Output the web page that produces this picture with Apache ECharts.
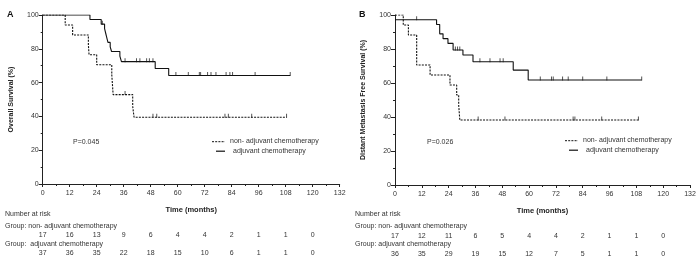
<!DOCTYPE html>
<html>
<head>
<meta charset="utf-8">
<script src="https://cdn.jsdelivr.net/npm/echarts@6/dist/echarts.min.js"></script>
<style>
  html, body { margin: 0; padding: 0; background: #fff; }
  #chart { width: 700px; height: 265px; }
</style>
</head>
<body>
<div id="chart"></div>
<script>
// month ticks shared by both panels
const monthTicks = [0, 12, 24, 36, 48, 60, 72, 84, 96, 108, 120];

// number at risk
const riskANon = [17, 16, 13, 9, 6, 4, 4, 2, 1, 1, 0];
const riskAAdj = [37, 36, 35, 22, 18, 15, 10, 6, 1, 1, 0];
const riskBNon = [17, 12, 11, 6, 5, 4, 4, 2, 1, 1, 0];
const riskBAdj = [36, 35, 29, 19, 15, 12, 7, 5, 1, 1, 0];

// panel A (overall survival) step points [month, %]
const curveANon = [[0, 100], [10, 94.1], [13.3, 88.2], [20.3, 82.4], [20.6, 76.5], [24, 70.6],
  [30.7, 64.7], [31, 58.8], [31.3, 52.9], [40, 46], [40.6, 39.5], [108.4, 39.5]];
const curveAAdj = [[0, 100], [21, 97.3], [26, 94.6], [27.5, 91.9], [28, 89.2], [28.5, 86.5],
  [29, 83.8], [30, 81.1], [30.6, 78.4], [34.3, 75.7], [35, 72.4], [50, 68.3], [56, 64.2], [110, 64.2]];
const censorANon = [[36.6, 52.9], [49, 39.5], [50.7, 39.5], [81, 39.5], [82.5, 39.5], [92.9, 39.5], [108.4, 39.5]];
const censorAAdj = [[26.5, 94.6], [36.6, 72.4], [41.7, 72.4], [43.2, 72.4], [46.2, 72.4], [47.4, 72.4], [49, 72.4],
  [59.2, 64.2], [64.7, 64.2], [69.6, 64.2], [70.2, 64.2], [73.3, 64.2], [74.8, 64.2], [77, 64.2],
  [81.5, 64.2], [83.2, 64.2], [84.4, 64.2], [94.4, 64.2], [110, 64.2]];

// panel B (distant metastasis free survival)
const curveBNon = [[0, 100], [3.7, 94.1], [6, 88.2], [9.7, 70.6], [15.7, 64.7], [24.6, 58.8],
  [27.6, 52.9], [28.5, 47], [29, 38.2], [108.9, 38.2]];
const curveBAdj = [[0, 97.2], [18.6, 94.4], [20, 88.9], [21.5, 86.1], [23.7, 83.3], [26, 79.4],
  [30.4, 76.5], [34.9, 72.5], [52.9, 67.6], [59.6, 61.8], [110.4, 61.8]];
const censorBNon = [[37.2, 38.2], [49.2, 38.2], [79.7, 38.2], [80.5, 38.2], [92.5, 38.2], [108.9, 38.2]];
const censorBAdj = [[9.7, 97.2], [27, 79.4], [28, 79.4], [29, 79.4], [38, 72.5], [42.5, 72.5], [47, 72.5],
  [48.4, 72.5], [65, 61.8], [70, 61.8], [70.8, 61.8], [75, 61.8], [77.5, 61.8], [84, 61.8],
  [94.8, 61.8], [110.4, 61.8]];

const FONT = '"Liberation Sans", Arial, sans-serif';
const txt = { fontFamily: FONT, fontSize: 7, color: '#333' };

const chart = echarts.init(document.getElementById('chart'));

const grids = [
  { left: 42.7, top: 15, width: 297, height: 169 },
  { left: 395, top: 15, width: 295, height: 170 }
];

const mainX = (gi) => ({
  type: 'value', gridIndex: gi, min: 0, max: 132, interval: 12,
  name: 'Time (months)', nameLocation: 'middle', nameGap: 22,
  nameTextStyle: { ...txt, fontWeight: 'bold', fontSize: 7.5, color: '#222' },
  axisLine: { lineStyle: { color: '#222', width: 1 } },
  axisTick: { length: 3, lineStyle: { color: '#222' } },
  minorTick: { show: true, splitNumber: 2, length: 2, lineStyle: { color: '#222' } },
  axisLabel: { ...txt, margin: 6, showMaxLabel: true },
  splitLine: { show: false }
});

const riskX = (gi, risk, offset) => ({
  type: 'value', gridIndex: gi, min: 0, max: 132, interval: 12, position: 'bottom', offset,
  axisLine: { show: false }, axisTick: { show: false }, splitLine: { show: false },
  axisLabel: {
    ...txt, margin: 4, showMaxLabel: true,
    formatter: (v) => { const i = monthTicks.indexOf(v); return i >= 0 ? String(risk[i]) : ''; }
  }
});

const mainY = (gi, name) => ({
  type: 'value', gridIndex: gi, min: 0, max: 100, interval: 20,
  name, nameLocation: 'middle', nameGap: 28,
  nameTextStyle: { ...txt, fontWeight: 'bold', color: '#222' },
  axisLine: { show: true, lineStyle: { color: '#222', width: 1 } },
  axisTick: { show: true, length: 4, lineStyle: { color: '#222' } },
  minorTick: { show: true, splitNumber: 2, length: 2, lineStyle: { color: '#222' } },
  axisLabel: { ...txt, margin: 4 },
  splitLine: { show: false }
});

const stepLine = (xi, yi, data, dashed) => ({
  type: 'line', xAxisIndex: xi, yAxisIndex: yi, data, step: 'end',
  symbol: 'none', silent: true,
  lineStyle: { color: '#111', width: 1.1, type: dashed ? [2, 1.2] : 'solid' }
});

const censor = (xi, yi, data) => ({
  type: 'scatter', xAxisIndex: xi, yAxisIndex: yi, data, silent: true,
  symbol: 'rect', symbolSize: [0.9, 4], symbolOffset: [0, -1.5],
  itemStyle: { color: '#111' }
});

const legendBlock = (x, y) => [
  { type: 'line', shape: { x1: x, y1: y, x2: x + 13, y2: y }, style: { stroke: '#111', lineWidth: 1, lineDash: [2, 1.2] } },
  { type: 'text', x: x + 18, y: y - 4, style: { text: 'non- adjuvant chemotherapy', font: '7px ' + FONT, fill: '#333' } },
  { type: 'line', shape: { x1: x + 4, y1: y + 9.5, x2: x + 13, y2: y + 9.5 }, style: { stroke: '#111', lineWidth: 1.2 } },
  { type: 'text', x: x + 21, y: y + 5.5, style: { text: 'adjuvant chemotherapy', font: '7px ' + FONT, fill: '#333' } }
];

const riskText = (x, g1, g2) => [
  { type: 'text', x, y: 211, style: { text: 'Number at risk', font: '7px ' + FONT, fill: '#333' } },
  { type: 'text', x, y: 223, style: { text: g1, font: '7px ' + FONT, fill: '#333' } },
  { type: 'text', x, y: 241, style: { text: g2, font: '7px ' + FONT, fill: '#333' } }
];

chart.setOption({
  animation: false,
  grid: grids,
  xAxis: [
    mainX(0), riskX(0, riskANon, 44), riskX(0, riskAAdj, 62),
    mainX(1), riskX(1, riskBNon, 44), riskX(1, riskBAdj, 62)
  ],
  yAxis: [
    mainY(0, 'Overall Survival (%)'),
    mainY(1, 'Distant Metastasis Free Survival (%)')
  ],
  series: [
    stepLine(0, 0, curveANon, true),
    stepLine(0, 0, curveAAdj, false),
    censor(0, 0, censorANon),
    censor(0, 0, censorAAdj),
    stepLine(3, 1, curveBNon, true),
    stepLine(3, 1, curveBAdj, false),
    censor(3, 1, censorBNon),
    censor(3, 1, censorBAdj)
  ],
  graphic: [
    { type: 'text', x: 7, y: 10, style: { text: 'A', font: 'bold 9px ' + FONT, fill: '#111' } },
    { type: 'text', x: 359, y: 10, style: { text: 'B', font: 'bold 9px ' + FONT, fill: '#111' } },
    { type: 'text', x: 73, y: 139, style: { text: 'P=0.045', font: '7px ' + FONT, fill: '#333' } },
    { type: 'text', x: 427, y: 139, style: { text: 'P=0.026', font: '7px ' + FONT, fill: '#333' } },
    ...legendBlock(212, 141.7),
    ...legendBlock(565, 140.7),
    ...riskText(5, 'Group: non- adjuvant chemotherapy', 'Group:  adjuvant chemotherapy'),
    ...riskText(355, 'Group: non- adjuvant chemotherapy', 'Group: adjuvant chemotherapy')
  ]
});
</script>
</body>
</html>
